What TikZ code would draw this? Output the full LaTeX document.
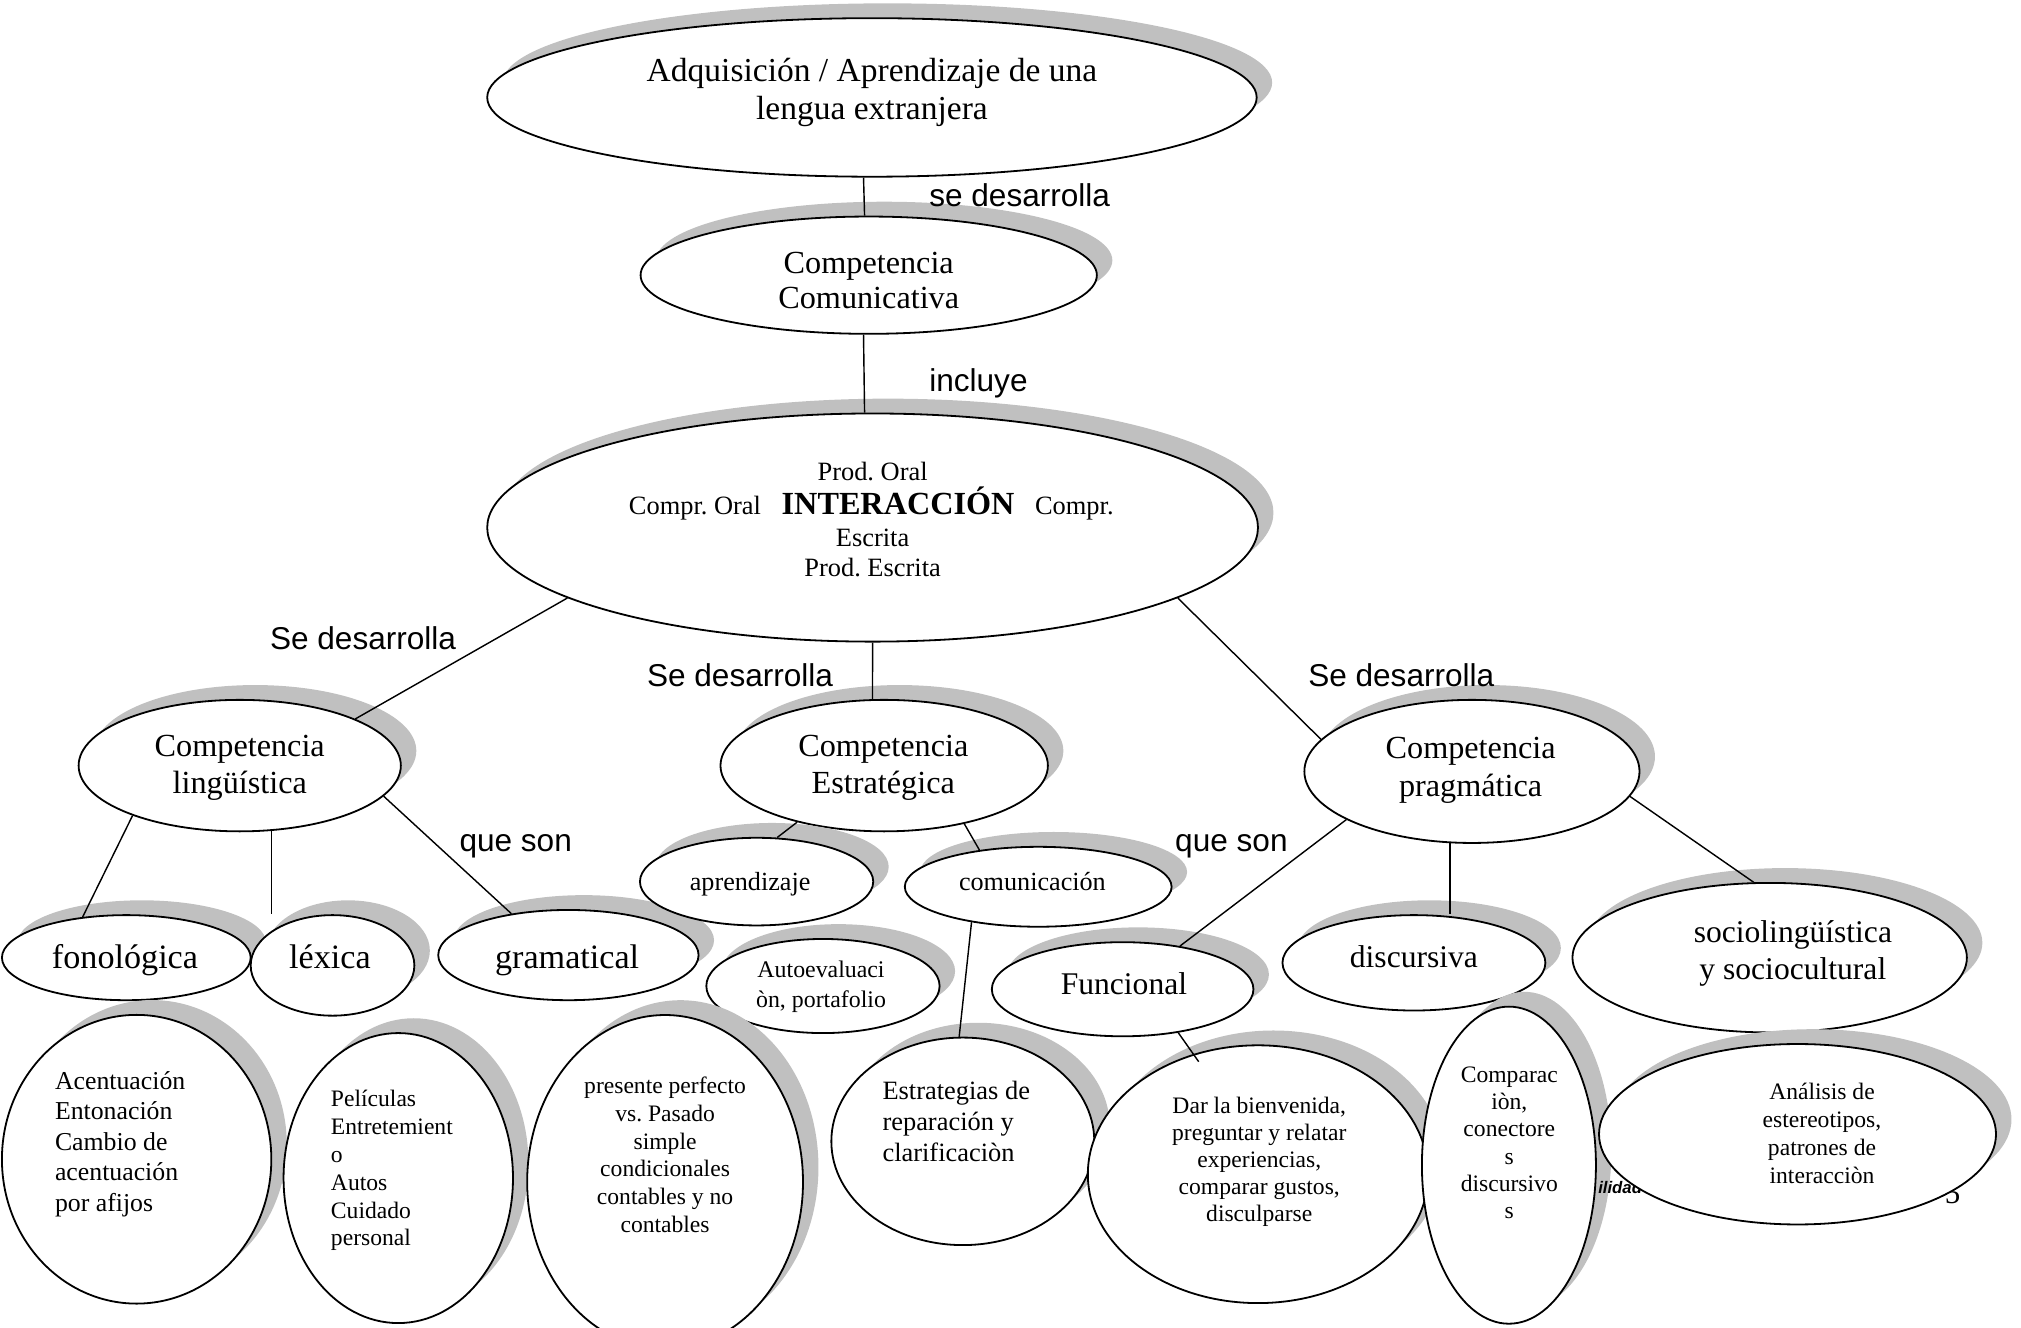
\documentclass[tikz,border=0pt]{standalone}
\usepackage{fontspec}
\setmainfont{Liberation Serif}
\setsansfont{Liberation Sans}
\usetikzlibrary{shapes.geometric,shadows}
\definecolor{shgray}{RGB}{192,192,192}
\frenchspacing
\tikzset{
  ell/.style={ellipse, draw=black, line width=1.4pt, fill=white, inner sep=0pt,
    drop shadow={shadow xshift=12pt, shadow yshift=11.5pt, fill=shgray, opacity=1}},
  conn/.style={line width=1.1pt, draw=black},
  txt/.style={inner sep=0pt, outer sep=0pt, anchor=base},
  txl/.style={inner sep=0pt, outer sep=0pt, anchor=base west},
  lbl/.style={inner sep=0pt, outer sep=0pt, anchor=base west, font=\sffamily\fontsize{24.5}{29}\selectfont},
}
\begin{document}
\begin{tikzpicture}[x=1pt, y=-1pt]
\useasboundingbox (0,0) rectangle (1568,1030);
% ellipses
\node[ell, minimum width=597pt, minimum height=123pt] (top) at (676.5,75.6) {};
\node[ell, minimum width=354pt, minimum height=91pt] (cc) at (674,213.5) {};
\node[ell, minimum width=598pt, minimum height=177pt] (inter) at (677,409.3) {};
\node[ell, minimum width=250pt, minimum height=102pt] (ling) at (186,594) {};
\node[ell, minimum width=254pt, minimum height=102pt] (estr) at (686,594) {};
\node[ell, minimum width=260pt, minimum height=111pt] (prag) at (1142,598.5) {};
\node[ell, minimum width=193pt, minimum height=66pt] (fono) at (98,743) {};
\node[ell, minimum width=127pt, minimum height=78pt] (lex) at (258,749) {};
\node[ell, minimum width=202pt, minimum height=70pt] (gram) at (441,741) {};
\node[ell, minimum width=181pt, minimum height=68pt] (apr) at (587,684) {};
\node[ell, minimum width=207pt, minimum height=62pt] (com) at (805.5,688) {};
\node[ell, minimum width=181pt, minimum height=73pt] (auto) at (638.5,765) {};
\node[ell, minimum width=203pt, minimum height=73pt] (func) at (871,767.5) {};
\node[ell, minimum width=204pt, minimum height=74pt] (disc) at (1097,747) {};
\node[ell, minimum width=306pt, minimum height=116pt] (socio) at (1373,743) {};
\node[ell, minimum width=209pt, minimum height=224pt] (acen) at (106,899.4) {};
\node[ell, minimum width=178pt, minimum height=225pt] (peli) at (309,914) {};
\node[ell, minimum width=214pt, minimum height=259pt] (pres) at (516,917) {};
\node[ell, minimum width=204pt, minimum height=161pt] (estg) at (747,885.5) {};
\node[ell, minimum width=264pt, minimum height=200pt] (dar) at (976,911) {};
\node[ell, minimum width=135pt, minimum height=246pt] (comp) at (1170.7,904) {};
% partly hidden footer text
\node[txl, font=\sffamily\bfseries\itshape\fontsize{13}{15}\selectfont] (foot) at (1240,925.7) {ilidad};
\node[txl, font=\fontsize{24}{28}\selectfont] (pnum) at (1509,934) {5};
\node[ell, minimum width=308pt, minimum height=140pt] (anal) at (1394.6,880) {};
% texts
\node[txt, font=\fontsize{26}{29.6}\selectfont] (ttop) at (676.5,63.4)
  {\begin{tabular}[t]{@{}c@{}}Adquisición / Aprendizaje de una\\lengua extranjera\end{tabular}};
\node[txt, font=\fontsize{25}{27.2}\selectfont] (tcc) at (674,212)
  {\begin{tabular}[t]{@{}c@{}}Competencia\\Comunicativa\end{tabular}};
\node[txt, font=\fontsize{20.5}{24}\selectfont] (ti1) at (677,372.5) {Prod. Oral};
\node[txt, font=\fontsize{20.5}{24}\selectfont] (ti2) at (676,399.5)
  {Compr. Oral\hspace{16pt}{\bfseries\fontsize{25}{28}\selectfont INTERACCIÓN}\hspace{16pt}Compr.};
\node[txt, font=\fontsize{20.5}{24}\selectfont] (ti3) at (677,424) {Escrita};
\node[txt, font=\fontsize{20.5}{24}\selectfont] (ti4) at (677,447.5) {Prod. Escrita};
\node[txt, font=\fontsize{25}{28.5}\selectfont] (tling) at (186,587)
  {\begin{tabular}[t]{@{}c@{}}Competencia\\lingüística\end{tabular}};
\node[txt, font=\fontsize{25}{28.5}\selectfont] (testr) at (685.3,587)
  {\begin{tabular}[t]{@{}c@{}}Competencia\\Estratégica\end{tabular}};
\node[txt, font=\fontsize{25}{29.5}\selectfont] (tprag) at (1141,588.5)
  {\begin{tabular}[t]{@{}c@{}}Competencia\\pragmática\end{tabular}};
\node[txt, font=\fontsize{26.5}{30}\selectfont] (tfono) at (97,751.5) {fonológica};
\node[txt, font=\fontsize{26.5}{30}\selectfont] (tlex) at (256,751.5) {léxica};
\node[txt, font=\fontsize{26.5}{30}\selectfont] (tgram) at (440,751.5) {gramatical};
\node[txt, font=\fontsize{20.3}{24}\selectfont] (tapr) at (582,691) {aprendizaje};
\node[txt, font=\fontsize{20.3}{24}\selectfont] (tcom) at (801,691) {comunicación};
\node[txt, font=\fontsize{18.5}{23.5}\selectfont] (tauto) at (637,758.5)
  {\begin{tabular}[t]{@{}c@{}}Autoevaluaci\\òn, portafolio\end{tabular}};
\node[txt, font=\fontsize{24.5}{28}\selectfont] (tfunc) at (872,771.5) {Funcional};
\node[txt, font=\fontsize{24.5}{28}\selectfont] (tdisc) at (1097,750.5) {discursiva};
\node[txt, font=\fontsize{24.5}{28.6}\selectfont] (tsocio) at (1391,731.5)
  {\begin{tabular}[t]{@{}c@{}}sociolingüística\\y sociocultural\end{tabular}};
\node[txl, font=\fontsize{20}{23.75}\selectfont] (tacen) at (42.7,845)
  {\begin{tabular}[t]{@{}l@{}}Acentuación\\Entonación\\Cambio de\\acentuación\\por afijos\end{tabular}};
\node[txl, font=\fontsize{18.3}{21.6}\selectfont] (tpeli) at (256.8,858.6)
  {\begin{tabular}[t]{@{}l@{}}Películas\\Entretemient\\o\\Autos\\Cuidado\\personal\end{tabular}};
\node[txt, font=\fontsize{18.3}{21.5}\selectfont] (tpres) at (516,848.5)
  {\begin{tabular}[t]{@{}c@{}}presente perfecto\\vs. Pasado\\simple\\condicionales\\contables y no\\contables\end{tabular}};
\node[txl, font=\fontsize{20.5}{24}\selectfont] (testg) at (684.7,853)
  {\begin{tabular}[t]{@{}l@{}}Estrategias de\\reparación y\\clarificaciòn\end{tabular}};
\node[txt, font=\fontsize{18.3}{21}\selectfont] (tdar) at (977,864)
  {\begin{tabular}[t]{@{}c@{}}Dar la bienvenida,\\preguntar y relatar\\experiencias,\\comparar gustos,\\disculparse\end{tabular}};
\node[txt, font=\fontsize{18.3}{21.2}\selectfont] (tcomp) at (1171,839.5)
  {\begin{tabular}[t]{@{}c@{}}Comparac\\iòn,\\conectore\\s\\discursivo\\s\end{tabular}};
\node[txt, font=\fontsize{18.3}{21.5}\selectfont] (tanal) at (1413.6,853.4)
  {\begin{tabular}[t]{@{}c@{}}Análisis de\\estereotipos,\\patrones de\\interacciòn\end{tabular}};
% labels
\node[lbl] (l1) at (721,160.3) {se desarrolla};
\node[lbl] (l2) at (721,303.5) {incluye};
\node[lbl] (l3) at (209.5,504) {Se desarrolla};
\node[lbl] (l4) at (502,533) {Se desarrolla};
\node[lbl] (l5) at (1015,533) {Se desarrolla};
\node[lbl] (l6) at (356.5,661) {que son};
\node[lbl] (l7) at (911.8,661) {que son};
% connectors
\coordinate (f2d) at (930,823.7);
\draw[conn] (top.264.4) -- (cc.94.4);
\draw[conn] (cc.265.4) -- (inter.94.3);
\draw[conn] (inter.193) -- (ling.22);
\draw[conn] (inter.270) -- (estr.100.4);
\draw[conn] (inter.347.3) -- (prag.168.8);
\draw[conn] (ling.205.9) -- (fono.137.5);
\draw[conn] (ling.296) -- (ling.296 |- lex.north);
\draw[conn] (ling.348.6) -- (gram.144);
\draw[conn] (estr.213.6) -- (apr.65.4);
\draw[conn] (estr.324.3) -- (com.148.3);
\draw[conn] (com.208.5) -- (estg.92.8);
\draw[conn] (prag.201.7) -- (func.37.2);
\draw[conn] (prag.253) -- (prag.253 |- disc.north);
\draw[conn] (prag.351.7) -- (socio.102.6);
\draw[conn] (func.322.9) -- (f2d);
\end{tikzpicture}
\end{document}
